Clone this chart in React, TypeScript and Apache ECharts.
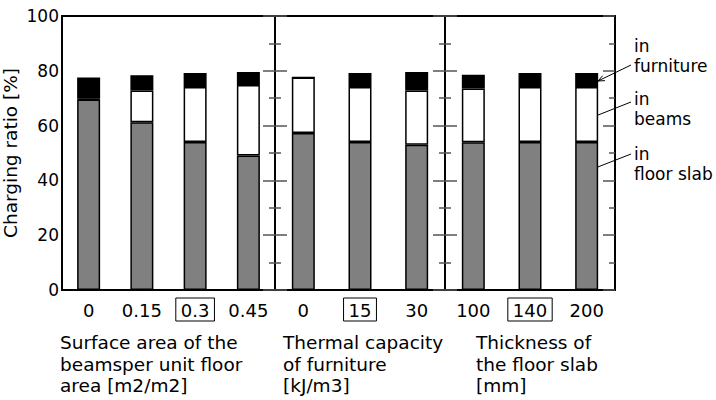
import React, { useEffect, useRef } from "react";
import * as echarts from "echarts";

// Categories per panel
const categories1 = ["0", "0.15", "0.3", "0.45"];
const categories2 = ["0", "15", "30"];
const categories3 = ["100", "140", "200"];
const baseCases = ["0.3", "15", "140"]; // boxed labels (reference case)

// Stacked values [%]
const floor1 = [69.5, 61.2, 54.0, 49.1];
const beams1 = [0.3, 11.6, 20.1, 25.7];
const furn1 = [7.8, 5.6, 5.1, 4.8];

const floor2 = [57.3, 54.0, 53.0];
const beams2 = [20.3, 20.1, 19.8];
const furn2 = [0, 5.1, 6.8];

const floor3 = [53.9, 54.0, 54.0];
const beams3 = [19.6, 20.1, 20.1];
const furn3 = [5.1, 5.1, 5.1];

const groupTitles = [
  "Surface area of the\nbeamsper unit floor\narea [m2/m2]",
  "Thermal capacity\nof furniture\n[kJ/m3]",
  "Thickness of\nthe floor slab\n[mm]",
];
const legendLabels = ["in\nfurniture", "in\nbeams", "in\nfloor slab"];
const yTitle = "Charging ratio [%]";

const FONT = "DejaVu Sans";

export default function App() {
  const ref = useRef<HTMLDivElement>(null);
  useEffect(() => {
    document.body.style.margin = "0";
    const chart = echarts.init(ref.current!, null, { renderer: "svg" });

    const grids = [
      { left: 62, top: 16, width: 213, height: 274 },
      { left: 275, top: 16, width: 170, height: 274 },
      { left: 445, top: 16, width: 170, height: 274 },
    ].map((g) => ({
      ...g,
      show: true,
      borderColor: "#000",
      borderWidth: 2,
      backgroundColor: "transparent",
    }));

    const cats = [categories1, categories2, categories3];
    const xAxis = cats.map((c, i) => ({
      type: "category",
      gridIndex: i,
      data: c,
      axisLine: { show: false },
      axisTick: { show: false },
      axisLabel: {
        margin: 8,
        interval: 0,
        formatter: (v: string) =>
          baseCases.includes(v) ? `{box|${v}}` : `{plain|${v}}`,
        rich: {
          box: {
            fontFamily: FONT,
            fontSize: 18,
            color: "#000",
            borderColor: "#000",
            borderWidth: 1,
            padding: [3, 5, 2, 5],
          },
          plain: {
            fontFamily: FONT,
            fontSize: 18,
            color: "#000",
            padding: [3, 5, 2, 5],
          },
        },
      },
    }));

    const mkY = (gridIndex: number, position: string, labels: boolean) => ({
      type: "value",
      gridIndex,
      position,
      min: 0,
      max: 100,
      interval: 20,
      axisLine: { show: false },
      splitLine: { show: false },
      axisTick: {
        show: !labels,
        inside: true,
        length: 12,
        lineStyle: { color: "#555", width: 1.5 },
      },
      minorTick: {
        show: !labels,
        splitNumber: 2,
        length: 6,
        lineStyle: { color: "#555", width: 1.5 },
      },
      axisLabel: {
        show: labels,
        margin: 3,
        fontFamily: FONT,
        fontSize: 17,
        color: "#000",
      },
      ...(labels
        ? {
            name: yTitle,
            nameLocation: "middle",
            nameGap: 42,
            nameTextStyle: { fontFamily: FONT, fontSize: 18.5, color: "#000" },
          }
        : {}),
    });

    const yAxis = [
      mkY(0, "left", true),
      mkY(0, "right", false),
      mkY(1, "left", false),
      mkY(1, "right", false),
      mkY(2, "left", false),
      mkY(2, "right", false),
    ];

    const panels = [
      [floor1, beams1, furn1],
      [floor2, beams2, furn2],
      [floor3, beams3, furn3],
    ];
    const colors = ["#808080", "#ffffff", "#000000"];
    const names = ["in floor slab", "in beams", "in furniture"];
    const series: any[] = [];
    panels.forEach((p, gi) => {
      p.forEach((vals, si) => {
        series.push({
          type: "bar",
          name: names[si],
          xAxisIndex: gi,
          yAxisIndex: gi * 2,
          stack: "s" + gi,
          data: vals,
          barWidth: 23,
          itemStyle: {
            color: colors[si],
            borderColor: "#000",
            borderWidth: 1.5,
          },
        });
      });
    });

    // annotation arrows (text anchor -> arrow tip)
    const arrows = [
      [631, 65, 598, 81],
      [631, 102, 588, 119],
      [631, 154, 585, 172],
    ];
    const graphics: any[] = [];
    arrows.forEach(([x1, y1, x2, y2]) => {
      graphics.push({
        type: "line",
        shape: { x1, y1, x2, y2 },
        style: { stroke: "#000", lineWidth: 1 },
      });
      const ang = Math.atan2(y2 - y1, x2 - x1);
      const L = 7;
      const spread = 0.4;
      graphics.push({
        type: "polyline",
        shape: {
          points: [
            [x2 - L * Math.cos(ang - spread), y2 - L * Math.sin(ang - spread)],
            [x2, y2],
            [x2 - L * Math.cos(ang + spread), y2 - L * Math.sin(ang + spread)],
          ],
        },
        style: { stroke: "#000", lineWidth: 1, fill: "none" },
      });
    });
    const legendY = [36, 89, 144];
    legendLabels.forEach((t, i) => {
      graphics.push({
        type: "text",
        x: 634,
        y: legendY[i],
        style: {
          text: t,
          fontFamily: FONT,
          fontSize: 17,
          lineHeight: 20,
          fill: "#000",
          textVerticalAlign: "top",
        },
      });
    });
    const titleX = [60, 283, 476];
    groupTitles.forEach((t, i) => {
      graphics.push({
        type: "text",
        x: titleX[i],
        y: 332,
        style: {
          text: t,
          fontFamily: FONT,
          fontSize: 18.5,
          lineHeight: 21.5,
          fill: "#000",
          textVerticalAlign: "top",
        },
      });
    });

    chart.setOption({
      animation: false,
      backgroundColor: "#fff",
      textStyle: { fontFamily: FONT },
      grid: grids,
      xAxis,
      yAxis,
      series,
      graphic: graphics,
    });
    return () => chart.dispose();
  }, []);
  return <div ref={ref} style={{ width: 716, height: 400 }} />;
}
